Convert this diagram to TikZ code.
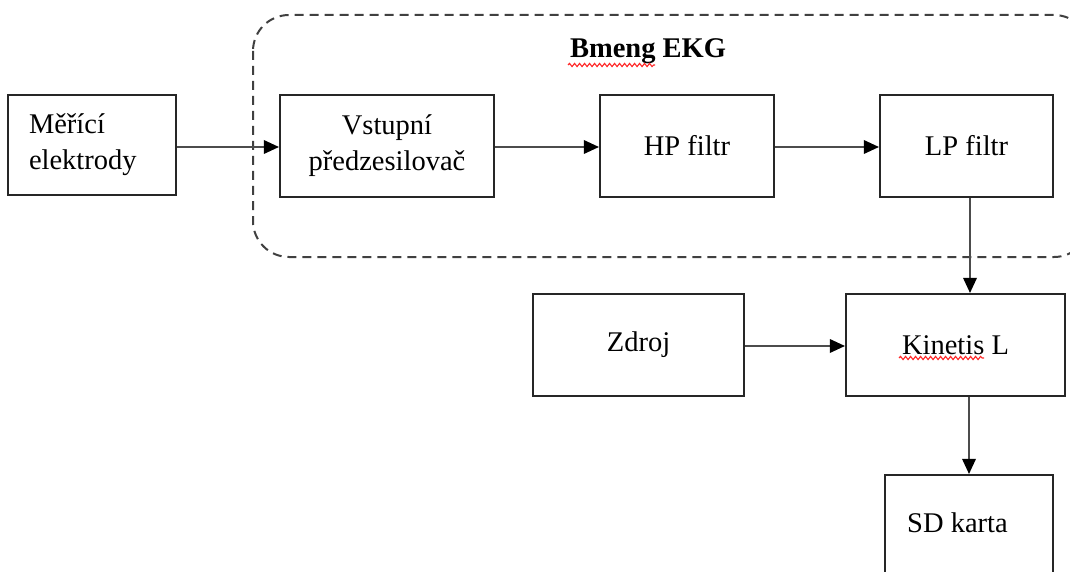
\documentclass[tikz,border=0pt]{standalone}
\usepackage{fontspec}
\setmainfont{Liberation Serif}
\usetikzlibrary{arrows.meta,decorations.pathmorphing}
\begin{document}
\begin{tikzpicture}[x=1pt,y=-1pt,
  box/.style={draw=black!85,line width=2.2pt,rectangle,inner sep=0pt,
    font=\fontsize{28.5}{36}\selectfont,align=center},
  conn/.style={line width=2.2pt,draw=black!70,-{Triangle[length=15pt,width=14pt,fill=black,line width=0pt]}},
  squig/.style={draw=red!85,line width=1.1pt,decorate,decoration={snake,segment length=5pt,amplitude=1.6pt}},
  grp/.style={draw=black!75,line width=2pt,dash pattern=on 9pt off 6pt,rounded corners=36pt}]
\useasboundingbox (0,0) rectangle (1070,572);
\clip (0,0) rectangle (1070,572);
\draw[grp] (253,15) rectangle (1090,257);
\node[font=\bfseries\fontsize{28.5}{36}\selectfont] (title) at (648,51) {Bmeng EKG};
\draw[squig] (568,65) -- (655,65);
\node[box,minimum width=168pt,minimum height=100pt,text width=126pt,align=left] (mer) at (92,145) {Měřící\\elektrody};
\node[box,minimum width=214pt,minimum height=102pt] (vst) at (387,146) {Vstupní\\předzesilovač};
\node[box,minimum width=174pt,minimum height=102pt] (hp) at (687,146) {HP filtr};
\node[box,minimum width=173pt,minimum height=102pt] (lp) at (966.5,146) {LP filtr};
\node[box,minimum width=211pt,minimum height=102pt] (zdroj) at (638.5,345) {Zdroj};
\node[box,minimum width=219pt,minimum height=102pt] (kin) at (955.5,345) {Kinetis L};
\draw[squig] (899,358) -- (984,358);
\node[box,minimum width=168pt,minimum height=150pt] (sd) at (969,550) {};
\node[font=\fontsize{28.5}{36}\selectfont,anchor=west,inner sep=0pt] (sdt) at (907,523) {SD karta};
\draw[conn] (mer.east |- 0,147) -- (vst.west |- 0,147);
\draw[conn] (vst.east |- 0,147) -- (hp.west |- 0,147);
\draw[conn] (hp.east |- 0,147) -- (lp.west |- 0,147);
\draw[conn] (lp.south -| 970,0) -- (kin.north -| 970,0);
\draw[conn] (zdroj.east |- 0,346) -- (kin.west |- 0,346);
\draw[conn] (kin.south -| 969,0) -- (sd.north -| 969,0);
\end{tikzpicture}
\end{document}
